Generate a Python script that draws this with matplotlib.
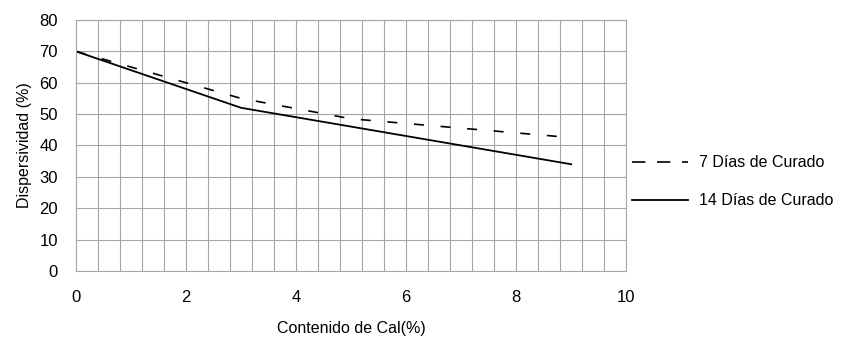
import matplotlib
matplotlib.use('Agg')
import matplotlib.pyplot as plt
from matplotlib.lines import Line2D
import numpy as np

# datos
cal_7 = [0, 3, 5, 9]
disp_7 = [70, 55, 48.5, 42.5]
cal_14 = [0, 3, 9]
disp_14 = [70, 52, 34]
x_ticks = [0, 2, 4, 6, 8, 10]
y_ticks = [0, 10, 20, 30, 40, 50, 60, 70, 80]

plt.rcParams['font.family'] = ['Liberation Sans', 'DejaVu Sans']

fig = plt.figure(figsize=(8.44, 3.39), dpi=100)
ax = fig.add_axes([0.090, 0.201, 0.652, 0.740])

ax.plot(cal_7, disp_7, color='black', lw=1.2, linestyle=(0, (6, 10)))
ax.plot(cal_14, disp_14, color='black', lw=1.3)

ax.set_xlim(0, 10)
ax.set_ylim(0, 80)
ax.set_xticks(x_ticks)
ax.set_yticks(y_ticks)
ax.set_xticks(np.arange(0, 10.01, 0.4), minor=True)
ax.grid(which='both', axis='x', color='#a6a6a6', lw=0.8)
ax.grid(which='major', axis='y', color='#a6a6a6', lw=0.8)
ax.set_axisbelow(True)
for s in ax.spines.values():
    s.set_color('#a6a6a6')
    s.set_linewidth(0.8)
ax.tick_params(which='both', length=0, labelsize=12)
ax.tick_params(axis='x', pad=14)
ax.tick_params(axis='y', pad=13)

ax.set_xlabel('Contenido de Cal(%)', fontsize=11.5, labelpad=11)
ax.set_ylabel('Dispersividad (%)', fontsize=11.5, labelpad=5)

handles = [Line2D([], [], color='black', lw=1.2, linestyle=(0, (8, 7))),
           Line2D([], [], color='black', lw=1.3)]
ax.legend(handles, ['7 Días de Curado', '14 Días de Curado'],
          loc='center left', bbox_to_anchor=(0.985, 0.355), frameon=False,
          fontsize=11.5, handlelength=3.5, labelspacing=1.45, handletextpad=0.7)

fig.savefig('out.png', dpi=100)
plt.close(fig)
